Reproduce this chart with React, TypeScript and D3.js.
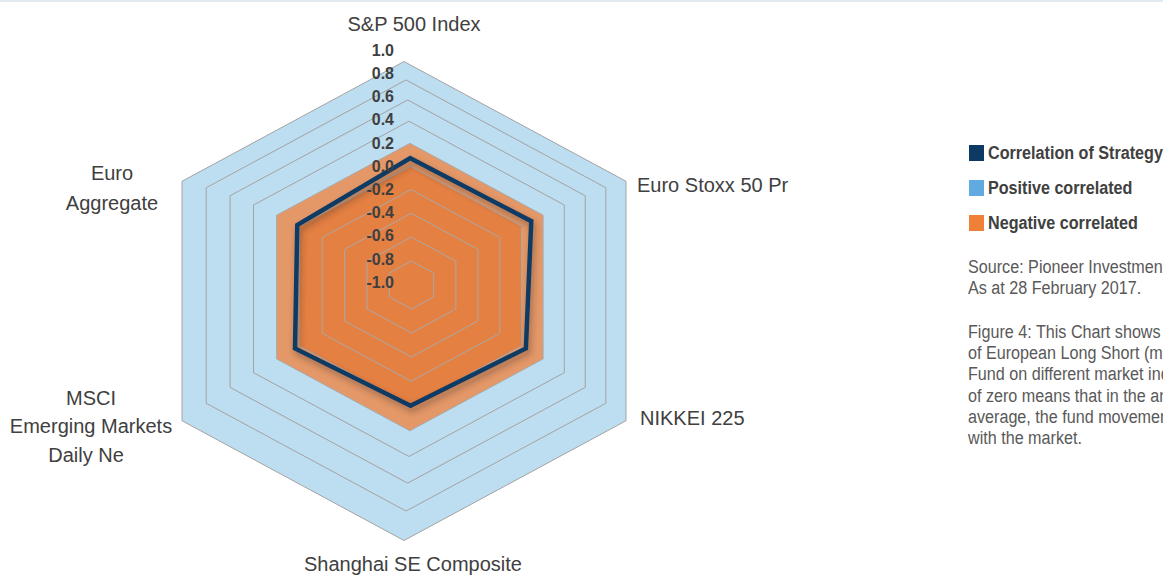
import React from 'react';
import * as d3 from 'd3';

// categories clockwise from the top
const categories = [
  'S&P 500 Index',
  'Euro Stoxx 50 Pr',
  'NIKKEI 225',
  'Shanghai SE Composite',
  'MSCI Emerging Markets Daily Ne',
  'Euro Aggregate'
];
const correlation = [0.07, 0.09, 0.04, 0.0, 0.04, 0.02];
const positiveBand = [1.0, 1.0, 1.0, 1.0, 1.0, 1.0];
const negativeEdge = [0.2, 0.2, 0.2, 0.2, 0.2, 0.2];
const negativeBand = [0.0, 0.0, 0.0, 0.0, 0.0, 0.0];
const tickValues = [-1.0, -0.8, -0.6, -0.4, -0.2, 0.0, 0.2, 0.4, 0.6, 0.8, 1.0];

const legendItems = [
  { label: 'Correlation of Strategy', color: '#0C3A62' },
  { label: 'Positive correlated', color: '#5FAADE' },
  { label: 'Negative correlated', color: '#F08038' }
];
const sourceLines = ['Source: Pioneer Investments', 'As at 28 February 2017.'];
const noteLines = [
  'Figure 4: This Chart shows the',
  'of European Long Short (master)',
  'Fund on different market indices',
  'of zero means that in the analysed',
  'average, the fund movement',
  'with the market.'
];

const W = 1163;
const H = 576;
const FONT = "'Liberation Sans', Arial, sans-serif";

// value -> fraction of the radius (centre is -1.0)
const rho = d3.scaleLinear().domain([-1, 1]).range([0, 1]);
const radY = d3.scaleLinear().domain([0, 1]).range([0, 239.5]);
const radX = d3.scaleLinear().domain([0, 1]).range([0, 222]);
// the rings drift slightly left/down as they grow (as in the source picture)
const centreX = (r: number) => 411.5 - 7.5 * r * r * r;
const centreY = (r: number) => 285 + 16 * Math.pow(r, 4);

const dirs = categories.map((_, i) => {
  const a = (i * Math.PI) / 3;
  return [Math.sin(a) / Math.sin(Math.PI / 3), -Math.cos(a)];
});

const project = (i: number, v: number): [number, number] => {
  const r = rho(v);
  return [centreX(r) + radX(r) * dirs[i][0], centreY(r) + radY(r) * dirs[i][1]];
};

const closed = d3.line<[number, number]>().curve(d3.curveLinearClosed);
const seriesPath = (vals: number[]) => closed(vals.map((v, i) => project(i, v))) || '';

const tickY = d3.scaleLinear().domain([-1, 1]).range([282, 50]);

// right-hand panel is set in a condensed face: emulate it with a horizontal squeeze
const SQUEEZE = 0.85;
const PANEL_X = 968;

export default function App() {
  const rings = tickValues.filter(t => t > -1);
  return (
    <svg
      width={W}
      height={H}
      viewBox={`0 0 ${W} ${H}`}
      style={{ position: 'absolute', left: 0, top: 0, background: '#fff' }}
    >
      <defs>
        <filter id="lineShadow" x="-20%" y="-20%" width="140%" height="140%">
          <feDropShadow dx="2" dy="4" stdDeviation="3" floodColor="#3a2a20" floodOpacity="0.45" />
        </filter>
      </defs>
      <line x1={0} x2={W} y1={1} y2={1} stroke="#E1E9F0" strokeWidth={2} />

      <path d={seriesPath(positiveBand)} fill="#BDDDF0" />
      <path d={seriesPath(negativeEdge)} fill="#E49868" />
      <path d={seriesPath(negativeBand)} fill="#E48042" />

      {rings.map(t => (
        <path
          key={t}
          d={closed(categories.map((_, i) => project(i, t))) || ''}
          fill="none"
          stroke={t > 0.2 ? '#A3A3A3' : '#A9A9A9'}
          strokeWidth={1}
        />
      ))}

      <path
        d={seriesPath(correlation)}
        fill="none"
        stroke="#0C3B64"
        strokeWidth={4.5}
        strokeLinejoin="miter"
        filter="url(#lineShadow)"
      />

      {tickValues.map(t => (
        <text
          key={t}
          x={394}
          y={tickY(t)}
          dy="0.36em"
          textAnchor="end"
          fontFamily={FONT}
          fontWeight="bold"
          fontSize={16}
          fill="#3F3F3F"
        >
          {t.toFixed(1)}
        </text>
      ))}

      <g fontFamily={FONT} fontSize={20} fill="#404040">
        <text x={414} y={31} textAnchor="middle">{categories[0]}</text>
        <text x={637} y={192}>{categories[1]}</text>
        <text x={640} y={425}>{categories[2]}</text>
        <text x={413} y={571} textAnchor="middle">{categories[3]}</text>
        <text x={91} y={405} textAnchor="middle">MSCI</text>
        <text x={91} y={433} textAnchor="middle">Emerging Markets</text>
        <text x={86} y={462} textAnchor="middle">Daily Ne</text>
        <text x={112} y={180} textAnchor="middle">Euro</text>
        <text x={112} y={210} textAnchor="middle">Aggregate</text>
      </g>

      {legendItems.map((d, i) => (
        <rect key={d.label} x={969} y={145 + i * 35} width={15} height={16} fill={d.color} />
      ))}
      <g transform={`translate(${PANEL_X},0) scale(${SQUEEZE},1)`} fontFamily={FONT}>
        {legendItems.map((d, i) => (
          <text
            key={d.label}
            x={(988 - PANEL_X) / SQUEEZE}
            y={159 + i * 35}
            fontSize={19}
            fontWeight="bold"
            fill="#404040"
          >
            {d.label}
          </text>
        ))}
        {sourceLines.map((s, i) => (
          <text key={s} x={0} y={273 + i * 21.3} fontSize={19} fill="#595959">
            {s}
          </text>
        ))}
        {noteLines.map((s, i) => (
          <text key={s} x={0} y={338 + i * 21.2} fontSize={19} fill="#595959">
            {s}
          </text>
        ))}
      </g>
    </svg>
  );
}
